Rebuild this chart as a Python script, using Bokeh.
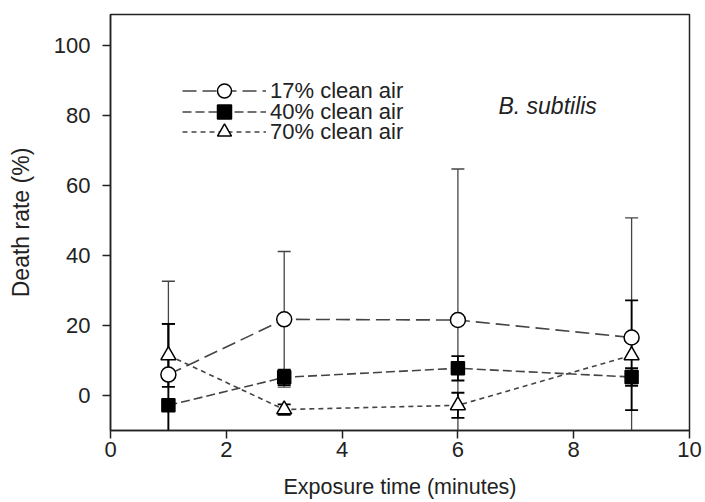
from bokeh.plotting import figure
from bokeh.models import (ColumnDataSource, Whisker, TeeHead, Legend, LegendItem,
                          Label, FixedTicker, Range1d)
from bokeh.embed import file_html
from bokeh.resources import INLINE

# ---- data ----
time_min = [1, 3, 6, 9]
mean_17 = [6.0, 21.8, 21.6, 16.6]
err_17 = [26.7, 19.4, 43.2, 34.2]
mean_40 = [-2.8, 5.2, 7.8, 5.3]
err_40 = [23.3, 2.2, 3.5, 2.5]
mean_70 = [11.5, -4.0, -2.8, 11.5]
err_70 = [9.0, 1.5, 3.6, 15.7]

labels = ["17% clean air", "40% clean air", "70% clean air"]
x_ticks = [0, 2, 4, 6, 8, 10]
y_ticks = [0, 20, 40, 60, 80, 100]

FONT = "Liberation Sans"

p = figure(width=705, height=502, output_backend="svg", toolbar_location=None,
           x_range=Range1d(0, 10), y_range=Range1d(-10, 109),
           min_border_left=110, min_border_right=16, min_border_top=14,
           min_border_bottom=72)
p.grid.visible = False
p.outline_line_color = "#222222"
p.outline_line_width = 1.5
p.background_fill_color = "white"
p.border_fill_color = "white"

for ax in (p.xaxis[0], p.yaxis[0]):
    ax.axis_line_width = 1.5
    ax.axis_line_color = "#222222"
    ax.major_tick_line_width = 1.5
    ax.major_tick_line_color = "#222222"
    ax.major_tick_out = 8
    ax.major_tick_in = 0
    ax.minor_tick_line_color = None
    ax.major_label_text_font = FONT
    ax.major_label_text_font_size = "22px"
    ax.major_label_text_color = "#222222"
    ax.axis_label_text_font = FONT
    ax.axis_label_text_font_style = "normal"
    ax.axis_label_text_color = "#222222"

p.xaxis.axis_label_text_font_size = "21.5px"
p.yaxis.axis_label_text_font_size = "23px"
p.xaxis.ticker = FixedTicker(ticks=x_ticks)
p.yaxis.ticker = FixedTicker(ticks=y_ticks)
p.xaxis.axis_label = "Exposure time (minutes)"
p.yaxis.axis_label = "Death rate (%)"
p.xaxis.major_label_standoff = 3
p.yaxis.major_label_standoff = 12
p.xaxis.axis_label_standoff = 15
p.yaxis.axis_label_standoff = 17

series = [
    (mean_17, err_17, "14 6", "circle", "white", "#444444", 1.3, 15),
    (mean_40, err_40, "9 4", "square", "black", "black", 1.8, 13),
    (mean_70, err_70, "5 4", "triangle", "white", "black", 1.8, 15),
]

for (m, e, dash, marker, fill, ecol, ew, sz) in series:
    src = ColumnDataSource(dict(x=time_min, y=m,
                                lo=[a - b for a, b in zip(m, e)],
                                hi=[a + b for a, b in zip(m, e)]))
    w = Whisker(source=src, base="x", lower="lo", upper="hi",
                line_color=ecol, line_width=ew,
                upper_head=TeeHead(size=13, line_color=ecol, line_width=ew),
                lower_head=TeeHead(size=13, line_color=ecol, line_width=ew),
                level="underlay")
    p.add_layout(w)

line_rs = []
for (m, e, dash, marker, fill, ecol, ew, sz) in series:
    src = ColumnDataSource(dict(x=time_min, y=m))
    lr = p.line("x", "y", source=src, line_color="#444444", line_width=1.6,
                line_dash=dash)
    line_rs.append(lr)

# one single-row legend per series so that rows can sit tightly (21 px apart)
legend_offsets = [322, 301, 281]
for (m, e, dash, marker, fill, ecol, ew, sz), lab, lr, off in zip(series, labels, line_rs, legend_offsets):
    src = ColumnDataSource(dict(x=time_min, y=m))
    sr = p.scatter("x", "y", source=src, marker=marker, size=sz,
                   fill_color=fill, line_color="black", line_width=1.5)
    lg = Legend(items=[LegendItem(label=lab, renderers=[lr, sr])],
                location=(72, off), orientation="vertical",
                glyph_width=84, glyph_height=35, label_height=21, spacing=0,
                padding=0, margin=0, label_standoff=4,
                label_text_font=FONT, label_text_font_size="22px",
                label_text_color="#222222",
                border_line_color=None, background_fill_alpha=0)
    p.add_layout(lg)

p.add_layout(Label(x=6.7, y=82.8, text="B. subtilis", text_font=FONT,
                   text_font_size="23px", text_font_style="italic",
                   text_baseline="middle", text_color="#222222"))

open("out.html", "w").write(file_html(p, INLINE))
